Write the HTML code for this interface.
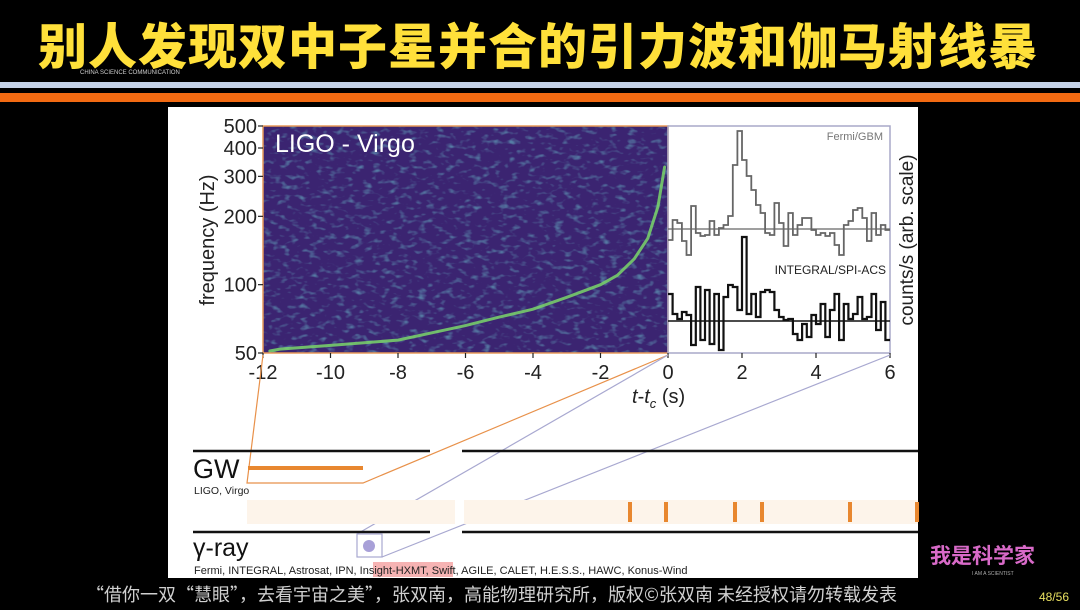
<!DOCTYPE html>
<html><head><meta charset="utf-8">
<style>
html,body{margin:0;padding:0;background:#000;}
body{width:1080px;height:610px;position:relative;overflow:hidden;font-family:"Liberation Sans","Noto Sans CJK SC",sans-serif;}
.abs{position:absolute;}
</style></head>
<body>
<div class="abs" style="left:38px;top:12px;font-size:49px;font-weight:900;color:#ffe03a;letter-spacing:1px;font-family:'Noto Sans CJK SC','WenQuanYi Zen Hei',sans-serif;line-height:64px;white-space:nowrap;">别人发现双中子星并合的引力波和伽马射线暴</div>
<div class="abs" style="left:80px;top:70px;font-size:6px;color:#ccc;">CHINA SCIENCE COMMUNICATION</div>
<div class="abs" style="left:0;top:82px;width:1080px;height:6px;background:#c5d3e8;"></div>
<div class="abs" style="left:0;top:93px;width:1080px;height:9px;background:#f26a12;"></div>
<div class="abs" style="left:168px;top:107px;width:750px;height:471px;background:#fff;"></div>

<svg class="abs" style="left:0;top:0" width="1080" height="610">
<defs>
<filter id="noise" x="0" y="0" width="100%" height="100%">
<feTurbulence type="fractalNoise" baseFrequency="0.11 0.2" numOctaves="2" seed="3"/>
<feColorMatrix type="matrix" values="0 0 0 0 0.15  0 0 0 0 0.55  0 0 0 0 0.62  0 0 0 3.0 -1.6"/>
</filter>
<clipPath id="specclip"><rect x="263" y="126" width="405" height="227"/></clipPath>
</defs>
<g id="spec" clip-path="url(#specclip)">
<rect x="263" y="126" width="405" height="227" fill="#3b2471"/>
<rect x="263" y="126" width="405" height="227" filter="url(#noise)" opacity="0.55"/>
<path id="chirp" fill="none" stroke="#7ad66a" stroke-width="3" stroke-linecap="round" opacity="0.85"/>
</g>
<rect x="263" y="126" width="405" height="227" fill="none" stroke="#e89a5a" stroke-width="1.5"/>
<text x="275" y="152" font-size="25" fill="#fff" font-family="Liberation Sans">LIGO - Virgo</text>
<rect x="668" y="126" width="222" height="227" fill="none" stroke="#a8a8c8" stroke-width="1.5"/>
<g id="axes" font-family="Liberation Sans" fill="#222"></g>
<path id="fermi" fill="none" stroke="#666" stroke-width="1.8"/>
<path id="integral" fill="none" stroke="#111" stroke-width="2.2"/>
<line x1="668" x2="890" id="fbase" stroke="#666" stroke-width="1.2"/>
<line x1="668" x2="890" id="ibase" stroke="#111" stroke-width="1.5"/>
<text x="883" y="140" font-size="11" fill="#777" text-anchor="end" font-family="Liberation Sans">Fermi/GBM</text>
<text x="886" y="274" font-size="12" fill="#222" text-anchor="end" font-family="Liberation Sans">INTEGRAL/SPI-ACS</text>
<text transform="translate(913,240) rotate(-90)" font-size="19" fill="#222" text-anchor="middle" font-family="Liberation Sans">counts/s (arb. scale)</text>
<text transform="translate(214,240) rotate(-90)" font-size="20" fill="#222" text-anchor="middle" font-family="Liberation Sans">frequency (Hz)</text>
<text x="632" y="403" font-size="20" fill="#222" font-family="Liberation Sans"><tspan font-style="italic">t</tspan>-<tspan font-style="italic">t</tspan><tspan font-size="13" dy="5" font-style="italic">c</tspan><tspan dy="-5"> (s)</tspan></text>

<polyline points="263,355 247,483 363,483 668,355" fill="none" stroke="#e8914a" stroke-width="1.2"/>
<line x1="668" y1="355" x2="357" y2="534" stroke="#a8a8d0" stroke-width="1.2"/>
<line x1="890" y1="355" x2="382" y2="557" stroke="#a8a8d0" stroke-width="1.2"/>

<line x1="193" y1="451" x2="430" y2="451" stroke="#111" stroke-width="2.5"/>
<line x1="462" y1="451" x2="918" y2="451" stroke="#111" stroke-width="2.5"/>
<text x="193" y="478" font-size="27" fill="#111" font-family="Liberation Sans">GW</text>
<line x1="248" y1="468" x2="363" y2="468" stroke="#e8872f" stroke-width="4"/>
<text x="194" y="494" font-size="10.5" fill="#222" font-family="Liberation Sans">LIGO, Virgo</text>
<rect x="247" y="500" width="208" height="24" fill="#fdf4ea"/>
<rect x="464" y="500" width="454" height="24" fill="#fdf4ea"/>
<g id="oticks"></g>
<line x1="193" y1="532" x2="430" y2="532" stroke="#111" stroke-width="2.5"/>
<line x1="462" y1="532" x2="918" y2="532" stroke="#111" stroke-width="2.5"/>
<text x="193" y="556" font-size="25" fill="#111" font-family="Liberation Sans">γ-ray</text>
<rect x="357" y="534" width="25" height="23" fill="#fff" stroke="#a8a8d0" stroke-width="1.2"/>
<circle cx="369" cy="546" r="6" fill="#a8a0d8"/>
<rect x="373" y="562" width="80" height="15" fill="#f6b3b3"/>
<text x="194" y="574" font-size="11" fill="#222" font-family="Liberation Sans">Fermi, INTEGRAL, Astrosat, IPN, Insight-HXMT, Swift, AGILE, CALET, H.E.S.S., HAWC, Konus-Wind</text>
</svg>

<div class="abs" style="left:86px;top:582px;font-size:18px;color:#d0d0d0;white-space:nowrap;font-family:'Noto Sans CJK SC',sans-serif;line-height:24px;">“借你一双“慧眼”，去看宇宙之美”，张双南，高能物理研究所，版权©张双南 未经授权请勿转载发表</div>
<div class="abs" style="left:1039px;top:590px;font-size:12px;color:#e8e060;">48/56</div>
<div class="abs" style="left:930px;top:540px;font-size:21px;font-weight:bold;color:#d86ac8;font-family:'Noto Sans CJK SC',sans-serif;">我是科学家</div>
<div class="abs" style="left:972px;top:571px;font-size:5px;color:#aaa;">I AM A SCIENTIST</div>

<script>
const freqTicks=[50,100,200,300,400,500];
const timeTicksSpec=[-12,-10,-8,-6,-4,-2,0];
const timeTicksGamma=[2,4,6];
const chirpT=[-11.8,-11.5,-10,-8,-6,-5,-4,-3,-2,-1.5,-1,-0.6,-0.3,-0.1];
const chirpF=[51,52,54,57,66,72,78,88,100,110,130,160,220,330];
const binWidth=0.125;
const fermiCounts=[-11,9,6,-12,-26,23,-4,-7,-6,8,-6,1,4,13,64,98,69,53,39,24,16,-4,-6,26,6,-17,16,-6,4,11,11,-1,-6,-4,-7,-4,-16,-26,4,8,19,21,11,-12,16,-6,4,-1];
const integralCounts=[27,7,2,9,6,-24,34,-19,31,-23,27,-29,24,36,34,11,84,7,27,4,29,31,29,11,4,1,2,-13,-19,-3,-16,6,-3,17,-16,11,27,-19,17,2,7,24,2,4,27,-9,19,-19];
const followupX=[630,666,735,762,850,917];
const ns='http://www.w3.org/2000/svg';
const xs=t=>263+(t+12)*(405/12);
const xg=t=>668+t*(222/6);
const yf=f=>353-(Math.log10(f)-Math.log10(50))/(Math.log10(500)-Math.log10(50))*227;
const fBase=229, iBase=321;
const axes=document.getElementById('axes');
function mk(tag,attrs,parent){const e=document.createElementNS(ns,tag);for(const k in attrs)e.setAttribute(k,attrs[k]);parent.appendChild(e);return e;}
freqTicks.forEach(f=>{
  const l=mk('line',{x1:258,x2:263,y1:yf(f),y2:yf(f),stroke:'#222','stroke-width':1.2},axes);
  
  
  const t=mk('text',{x:257,y:yf(f)+7,'font-size':20,'text-anchor':'end'},axes);
  
  
  t.textContent=f;
});
timeTicksSpec.forEach(v=>{
  const l=mk('line',{x1:xs(v),x2:xs(v),y1:353,y2:358,stroke:'#222','stroke-width':1.2},axes);
  
  
  const t=mk('text',{x:xs(v),y:379,'font-size':20,'text-anchor':'middle'},axes);
  
  
  t.textContent=v;
});
timeTicksGamma.forEach(v=>{
  const l=mk('line',{x1:xg(v),x2:xg(v),y1:353,y2:358,stroke:'#222','stroke-width':1.2},axes);
  
  
  const t=mk('text',{x:xg(v),y:379,'font-size':20,'text-anchor':'middle'},axes);
  
  
  t.textContent=v;
});
let d='';chirpT.forEach((t,i)=>{d+=(i?'L':'M')+xs(t).toFixed(1)+','+yf(chirpF[i]).toFixed(1);});
document.getElementById('chirp').setAttribute('d',d);
function step(arr,base){let p='';arr.forEach((v,i)=>{const x0=xg(i*binWidth),x1=xg((i+1)*binWidth),y=base-v;p+=(i?'L'+x0.toFixed(1)+','+y:'M'+x0.toFixed(1)+','+y)+'L'+x1.toFixed(1)+','+y;});return p;}
document.getElementById('fermi').setAttribute('d',step(fermiCounts,fBase));
document.getElementById('integral').setAttribute('d',step(integralCounts,iBase));
const fb=document.getElementById('fbase');fb.setAttribute('y1',fBase);fb.setAttribute('y2',fBase);
const ib=document.getElementById('ibase');ib.setAttribute('y1',iBase);ib.setAttribute('y2',iBase);
const og=document.getElementById('oticks');
followupX.forEach(x=>{
  const r=mk('rect',{x:x-2,y:502,width:4,height:20,fill:'#e8872f'},og);
  
  
});
</script>
</body></html>
